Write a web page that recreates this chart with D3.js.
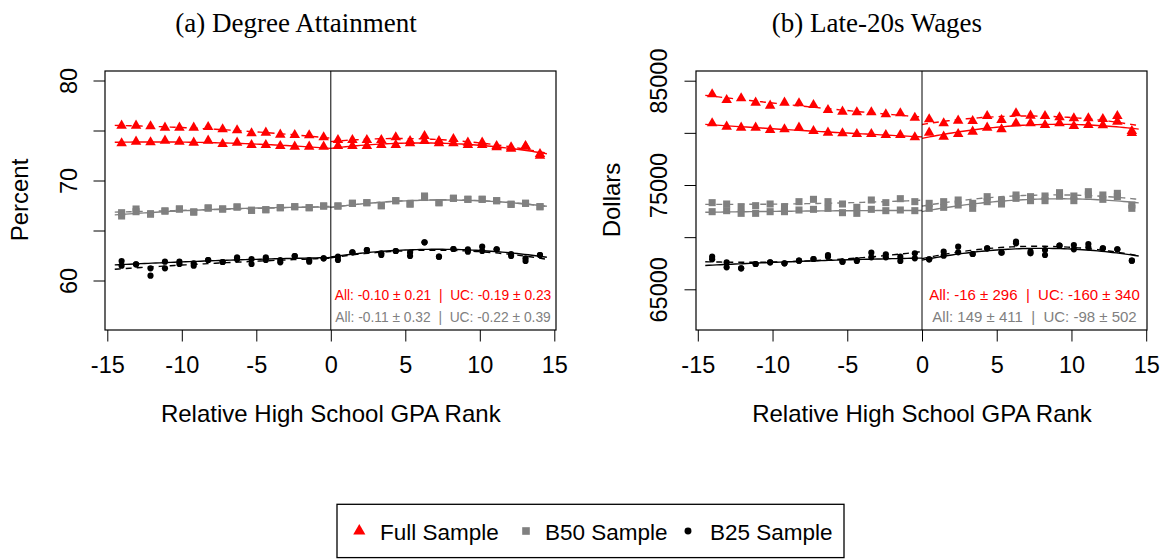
<!DOCTYPE html>
<html><head><meta charset="utf-8">
<script src="https://cdn.jsdelivr.net/npm/d3@7"></script>
<style>
body{margin:0;background:#fff}
svg{display:block}
text{font-family:"Liberation Sans", Arial, sans-serif;fill:#000}
</style>
</head><body>
<svg id="chart" width="1167" height="559"></svg>
<script>
// ---------------- DATA ----------------
const xRank = [-14.04,-13.07,-12.10,-11.13,-10.16,-9.20,-8.23,-7.26,-6.29,-5.32,-4.36,-3.39,-2.42,-1.45,-0.48,
               0.48,1.45,2.42,3.39,4.36,5.32,6.29,7.26,8.23,9.20,10.16,11.13,12.10,13.07,14.04];
const xTicks = [-15,-10,-5,0,5,10,15];
const degTicks = [60,65,70,75,80];
const degTickLabels = ["60","","70","","80"];
const wageTicks = [65000,70000,75000,80000,85000];
const wageTickLabels = ["65000","","75000","","85000"];

// (a) Degree attainment, percent
const degFullAll = [73.72,73.88,73.82,73.98,73.88,73.78,73.98,73.65,73.78,73.55,73.55,73.45,73.38,73.38,73.38,
                    73.45,73.45,73.45,73.55,73.55,73.72,73.95,73.72,73.72,73.55,73.55,73.32,73.18,73.38,72.48];
const degFullUC  = [75.48,75.48,75.42,75.28,75.28,75.28,75.35,75.12,75.02,74.72,74.78,74.58,74.55,74.52,74.32,
                    74.05,74.05,74.05,74.05,74.32,73.95,74.45,73.95,74.15,73.78,73.78,73.45,73.32,73.45,72.65];
const degB50All  = [66.45,66.88,66.65,66.95,67.15,66.85,67.25,67.15,67.35,67.02,67.08,67.28,67.38,67.28,67.45,
                    67.45,67.72,67.78,67.48,67.98,67.65,68.30,67.78,68.22,68.12,68.12,67.98,67.62,67.72,67.38];
const degB50UC   = [66.78,67.15,66.65,66.95,67.15,66.85,67.25,67.15,67.35,67.02,67.08,67.28,67.38,67.28,67.45,
                    67.45,67.72,67.78,67.48,67.98,67.65,68.45,67.78,68.22,68.12,68.12,67.98,67.62,67.72,67.38];
const degB25All  = [61.95,61.62,61.22,61.88,61.88,61.72,62.05,61.85,62.32,62.15,62.32,62.05,62.45,62.05,62.22,
                    62.38,62.82,63.05,62.55,62.95,62.78,63.82,62.38,63.15,63.12,63.38,63.12,62.65,62.22,62.55];
const degB25UC   = [61.48,61.62,60.48,61.22,61.65,61.48,62.05,61.85,62.12,61.65,62.05,61.82,62.45,61.88,62.22,
                    62.05,62.82,63.05,62.72,62.95,62.45,63.82,62.38,63.15,62.88,62.95,63.12,62.45,61.95,62.55];

// (b) Late-20s wages, dollars
const wageFullAll = [80915,80590,80494,80494,80273,80340,80494,80177,80014,79957,79890,79890,79794,79794,79573,
                     80014,79631,79890,80110,80494,80340,80915,80915,80752,80915,80657,80752,80724,81069,79985];
const wageFullUC  = [83696,83150,83313,82891,82603,82891,82833,82670,82191,82028,81970,81970,81778,81874,81452,
                     81299,80915,81165,81136,81615,81232,81874,81644,81615,81491,81395,81395,81328,81615,80177];
const wageB50All  = [72443,72539,72283,72283,72443,72443,72603,72667,72763,72347,72283,72667,72539,72603,72539,
                     72763,72859,73082,72763,73402,73178,73722,73498,73498,73945,73498,74041,73626,73881,72763];
const wageB50UC   = [73306,73178,72922,73018,73178,72922,73402,73626,73402,73178,72859,73561,73306,73689,73402,
                     73242,73402,73561,73242,73881,73561,74041,73881,73945,74265,73945,74360,74041,74201,73082];
const wageB25All  = [67873,67106,67010,67425,67585,67489,67745,67905,68128,67649,67713,68065,68065,67713,67969,
                     67873,68224,68544,68384,68928,68512,69407,68448,68288,69183,68832,69023,68928,68832,67745];
const wageB25UC   = [68128,67585,67010,67425,67585,67489,67745,67905,68288,67649,67809,68512,68352,68128,68448,
                     67873,68607,69087,68384,68928,68512,69566,68607,68768,69183,69247,69343,68928,68832,67745];

const panelTitles = ["(a) Degree Attainment","(b) Late-20s Wages"];
const yLabels = ["Percent","Dollars"];
const xLabel = "Relative High School GPA Rank";
const annotations = [
  ["All: -0.10 \u00b1 0.21  |  UC: -0.19 \u00b1 0.23","All: -0.11 \u00b1 0.32  |  UC: -0.22 \u00b1 0.39"],
  ["All: -16 \u00b1 296  |  UC: -160 \u00b1 340","All: 149 \u00b1 411  |  UC: -98 \u00b1 502"]
];
const legendLabels = ["Full Sample","B50 Sample","B25 Sample"];

// ---------------- STYLE / LAYOUT ----------------
const RED = "#ff0000", GREY = "#808080", BLACK = "#000000";
const sampleColors = [RED, GREY, BLACK];
const sampleShapes = [d3.symbolTriangle, d3.symbolSquare, d3.symbolCircle];
const shapeSizes = [48, 50, 30];
const legendSizes = [64, 58, 38];

const panels = [
  {box:{l:105,t:71,r:556,b:330}, xr:[107.3,554.3], yd:[60,80], yr:[280.5,80.5],
   ticks:degTicks, tickLabels:degTickLabels, titleX:296, ylabX:28, annX:443, annSize:13.8,
   series:[[degFullAll,degFullUC],[degB50All,degB50UC],[degB25All,degB25UC]]},
  {box:{l:696,t:71,r:1147,b:330}, xr:[697.8,1146.2], yd:[65000,85000], yr:[289.3,80.7],
   ticks:wageTicks, tickLabels:wageTickLabels, titleX:877, ylabX:620, annX:1034.5, annSize:15,
   series:[[wageFullAll,wageFullUC],[wageB50All,wageB50UC],[wageB25All,wageB25UC]]}
];

function quadFit(px, py){
  const S=[0,0,0,0,0], T=[0,0,0];
  for(let i=0;i<px.length;i++){
    let p=1; for(let k=0;k<5;k++){S[k]+=p; if(k<3) T[k]+=py[i]*p; p*=px[i];}
  }
  const A=[[S[0],S[1],S[2],T[0]],[S[1],S[2],S[3],T[1]],[S[2],S[3],S[4],T[2]]];
  for(let c=0;c<3;c++){
    for(let r=c+1;r<3;r++){const f=A[r][c]/A[c][c]; for(let k=c;k<4;k++) A[r][k]-=f*A[c][k];}
  }
  const b=[0,0,0];
  for(let r=2;r>=0;r--){let s=A[r][3]; for(let k=r+1;k<3;k++) s-=A[r][k]*b[k]; b[r]=s/A[r][r];}
  return x=>b[0]+b[1]*x+b[2]*x*x;
}

const svg = d3.select("#chart");
svg.append("rect").attr("width",1167).attr("height",559).attr("fill","#fff");

panels.forEach((P,pi)=>{
  const x = d3.scaleLinear().domain([-15,15]).range(P.xr);
  const y = d3.scaleLinear().domain(P.yd).range(P.yr);
  const g = svg.append("g");
  const B = P.box;

  // title
  g.append("text").attr("x",P.titleX).attr("y",32).attr("text-anchor","middle")
    .style("font-family","'Liberation Serif','Times New Roman',serif").style("font-size","27px")
    .text(panelTitles[pi]);

  // y axis
  const ya = g.append("g").attr("transform",`translate(${B.l},0)`)
    .call(d3.axisLeft(y).tickValues(P.ticks).tickSize(11.5).tickFormat((d,i)=>P.tickLabels[i]));
  ya.select(".domain").remove();
  ya.selectAll(".tick line").attr("stroke","#000").attr("stroke-width",1);
  ya.selectAll(".tick text").attr("x",0).attr("y",-(B.l - (pi===0?77:667))).attr("dy",0)
    .attr("transform","rotate(-90)").attr("text-anchor","middle")
    .style("font-size","23.5px").style("font-family","'Liberation Sans',Arial,sans-serif").attr("fill","#000");

  // x axis
  const xa = g.append("g").attr("transform",`translate(0,${B.b})`)
    .call(d3.axisBottom(x).tickValues(xTicks).tickSize(11.5).tickFormat(d3.format("d")));
  xa.select(".domain").remove();
  xa.selectAll(".tick line").attr("stroke","#000").attr("stroke-width",1);
  xa.selectAll(".tick text").attr("y",42.5).attr("dy",0)
    .style("font-size","23.5px").style("font-family","'Liberation Sans',Arial,sans-serif").attr("fill","#000")
    .text(d=>d<0?"-"+Math.abs(d):d);

  // axis labels
  g.append("text").attr("x",(P.xr[0]+P.xr[1])/2).attr("y",422).attr("text-anchor","middle")
    .style("font-size","24px").text(xLabel);
  g.append("text").attr("transform",`translate(${P.ylabX},200) rotate(-90)`).attr("text-anchor","middle")
    .style("font-size","24px").text(yLabels[pi]);

  // clip for plotting
  const cid = "clip"+pi;
  svg.append("clipPath").attr("id",cid).append("rect")
    .attr("x",B.l).attr("y",B.t).attr("width",B.r-B.l).attr("height",B.b-B.t);
  const pg = g.append("g").attr("clip-path",`url(#${cid})`);

  // points
  P.series.forEach((pair,si)=>{
    pair.forEach(vals=>{
      pg.selectAll(null).data(vals).enter().append("path")
        .attr("d",d3.symbol().type(sampleShapes[si]).size(shapeSizes[si]))
        .attr("transform",(d,i)=>`translate(${x(xRank[i])},${y(d)})`)
        .attr("fill",sampleColors[si]);
    });
  });

  // fitted lines, per side of cutoff
  const line = d3.line().x(d=>x(d[0])).y(d=>y(d[1]));
  P.series.forEach((pair,si)=>{
    pair.forEach((vals,vi)=>{
      [[-14.5,0,v=>v<0],[0,14.5,v=>v>0]].forEach(([a,b,sel])=>{
        const idx = xRank.map((v,i)=>i).filter(i=>sel(xRank[i]));
        const f = quadFit(idx.map(i=>xRank[i]), idx.map(i=>vals[i]));
        const pts = d3.range(a,b+0.0001,0.25).map(t=>[t,f(t)]);
        pg.append("path").attr("d",line(pts)).attr("fill","none")
          .attr("stroke",sampleColors[si]).attr("stroke-width",1.4)
          .attr("stroke-dasharray",vi===1?"6,5":null);
      });
    });
  });

  // cutoff line
  g.append("line").attr("x1",x(0)).attr("x2",x(0)).attr("y1",B.t).attr("y2",B.b)
    .attr("stroke","#000").attr("stroke-width",1);

  // box
  g.append("rect").attr("x",B.l).attr("y",B.t).attr("width",B.r-B.l).attr("height",B.b-B.t)
    .attr("fill","none").attr("stroke","#000").attr("stroke-width",1.2);

  // annotations
  annotations[pi].forEach((txt,k)=>{
    g.append("text").attr("x",P.annX).attr("y",k===0?300:322).attr("text-anchor","middle")
      .style("font-size",P.annSize+"px").style("white-space","pre").attr("xml:space","preserve")
      .attr("fill",k===0?RED:GREY).style("fill",k===0?RED:GREY).text(txt);
  });
});

// legend
const lg = svg.append("g");
lg.append("rect").attr("x",337).attr("y",504.3).attr("width",507).attr("height",53.3)
  .attr("fill","#fff").attr("stroke","#000").attr("stroke-width",1.3);
const legSym = [359.3, 526, 688];
const legTxt = [380, 545, 710];
legendLabels.forEach((lab,i)=>{
  lg.append("path").attr("d",d3.symbol().type(sampleShapes[i]).size(legendSizes[i]))
    .attr("transform",`translate(${legSym[i]},531)`).attr("fill",sampleColors[i]);
  lg.append("text").attr("x",legTxt[i]).attr("y",539.5).style("font-size","22.5px").text(lab);
});
</script>
</body></html>
